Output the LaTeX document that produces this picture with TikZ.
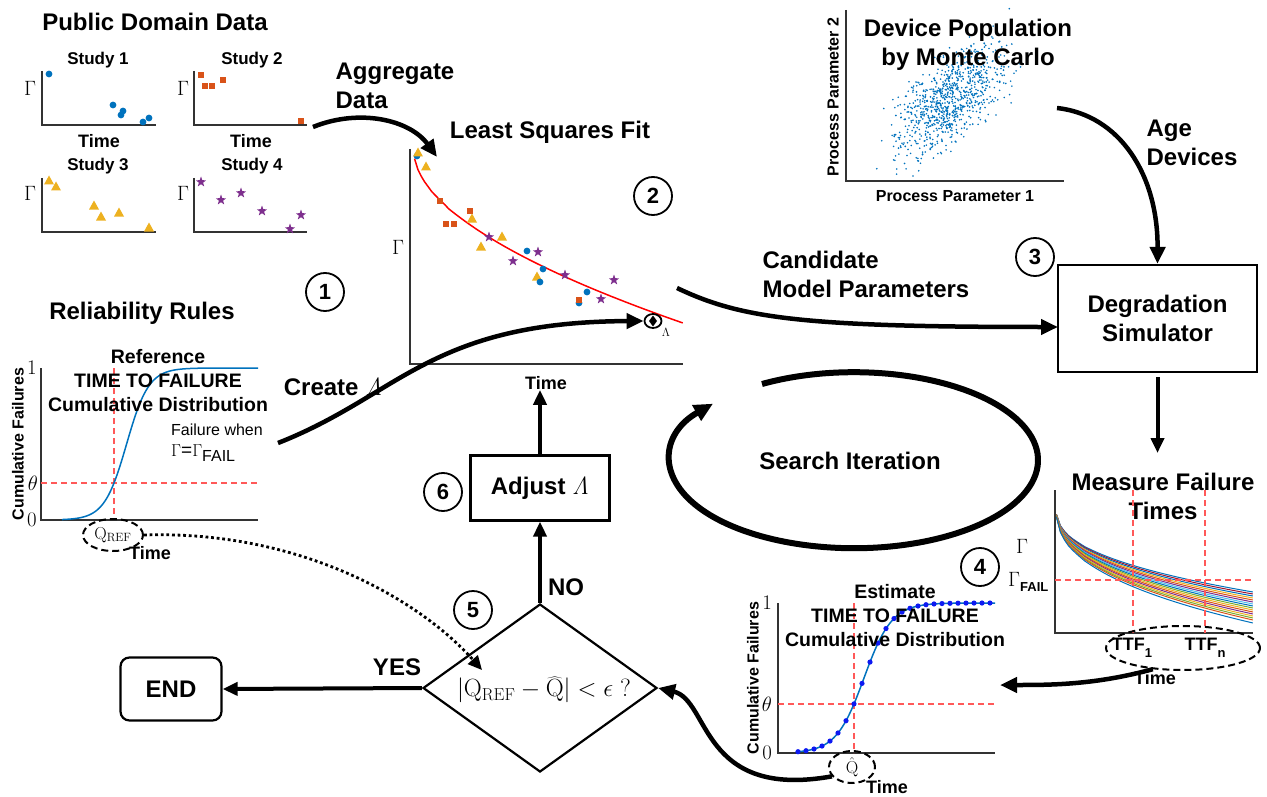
\documentclass[tikz,border=0pt]{standalone}
\usepackage[no-math]{fontspec}
\setmainfont{Liberation Sans}
\usetikzlibrary{arrows.meta,shapes.geometric,calc}
\definecolor{mblue}{rgb}{0,0.447,0.741}
\definecolor{morange}{rgb}{0.85,0.325,0.098}
\definecolor{myellow}{rgb}{0.929,0.694,0.125}
\definecolor{mpurple}{rgb}{0.494,0.184,0.556}
\definecolor{mgreen}{rgb}{0.466,0.674,0.188}
\definecolor{mcyan}{rgb}{0.301,0.745,0.933}
\definecolor{mred}{rgb}{0.635,0.078,0.184}
\definecolor{dred}{rgb}{1,0.35,0.35}
\definecolor{dotblue}{rgb}{0.05,0.1,0.95}
\newcommand\mdot[2]{\fill[mblue] (#1,#2) circle (3.4);}
\newcommand\msq[2]{\fill[morange] ({#1-3},{#2-3}) rectangle ({#1+3},{#2+3});}
\newcommand\mtri[2]{\fill[myellow,shift={(#1,#2)}] (0,-5.5) -- (5,3.5) -- (-5,3.5) -- cycle;}
\newcommand\mstar[2]{\fill[mpurple,shift={(#1,#2)}] (270:5.5)--(306:2.2)--(342:5.5)--(18:2.2)--(54:5.5)--(90:2.2)--(126:5.5)--(162:2.2)--(198:5.5)--(234:2.2)--cycle;}
\tikzset{
  ttl/.style={font=\fontsize{24}{29}\selectfont\bfseries, align=center, inner sep=0pt},
  ttlL/.style={font=\fontsize{24}{29}\selectfont\bfseries, align=left, inner sep=0pt},
  cdf/.style={font=\fontsize{19.5}{24}\selectfont\bfseries, align=center, inner sep=0pt},
  stl/.style={font=\fontsize{17}{19}\selectfont\bfseries, inner sep=0pt},
  tml/.style={font=\fontsize{18}{20}\selectfont\bfseries, inner sep=0pt},
  axl/.style={font=\fontsize{16}{18}\selectfont\bfseries, inner sep=0pt},
  serif/.style={font=\fontsize{20}{20}\selectfont, inner sep=0pt},
  ax/.style={draw=black!80, line width=1.3pt},
  rdash/.style={draw=dred, line width=1.2pt, dash pattern=on 6pt off 4pt},
  num/.style={circle, draw, line width=1.8pt, minimum size=38pt, inner sep=0pt, font=\fontsize{22}{22}\selectfont\bfseries},
  conn/.style={line width=4.5pt, -{Triangle[length=17pt,width=15pt]}},
  sconn/.style={line width=4pt, -{Triangle[length=15pt,width=13pt]}},
  flowbox/.style={draw, line width=2.2pt, inner sep=0pt, align=center, font=\fontsize{24}{29}\selectfont\bfseries},
  dashell/.style={ellipse, draw, line width=2pt, dash pattern=on 7pt off 4pt, inner sep=0pt},
}
\begin{document}
\begin{tikzpicture}[x=1pt,y=-1pt]
\useasboundingbox (0,0) rectangle (1267,797);

% ---------- Public domain data ----------
\node[ttl] (pdd) at (155,22) {Public Domain Data};
\node[stl] (s1t) at (98,60) {Study 1};
\draw[ax] (42,71) -- (42,125) -- (156,125);
\node[serif] (s1g) at (30,88) {$\Gamma$};
\node[tml] (s1x) at (99,141) {Time};
\mdot{49}{74}\mdot{113}{105}\mdot{123}{111}\mdot{121}{115}\mdot{143}{122}\mdot{149}{118}

\node[stl] (s2t) at (252,60) {Study 2};
\draw[ax] (194,71) -- (194,125) -- (307,125);
\node[serif] (s2g) at (183,88) {$\Gamma$};
\node[tml] (s2x) at (251,141) {Time};
\msq{201}{75}\msq{205}{86}\msq{212}{86}\msq{223}{80}\msq{301}{121}

\node[stl] (s3t) at (98,166) {Study 3};
\draw[ax] (42,178) -- (42,232) -- (156,232);
\node[serif] (s3g) at (30,193) {$\Gamma$};
\mtri{49}{181}\mtri{56}{187}\mtri{94}{206}\mtri{101}{217}\mtri{119}{213}\mtri{149}{228}

\node[stl] (s4t) at (252,166) {Study 4};
\draw[ax] (194,178) -- (194,232) -- (307,232);
\node[serif] (s4g) at (183,193) {$\Gamma$};
\mstar{201}{182}\mstar{221}{200}\mstar{241}{193}\mstar{262}{211}\mstar{301}{215}\mstar{290}{229}

% ---------- Least squares ----------
\node[ttlL] (agg) at (395,86) {Aggregate\\Data};
\node[ttl] (lst) at (550,132) {Least Squares Fit};
\draw[ax] (410,149) -- (410,364) -- (683,364);
\node[serif] (lsg) at (398,247) {$\Gamma$};
\node[tml] (lstime) at (546,383) {Time};
\draw[red, line width=1.5pt] plot[domain=0.002:1, samples=80] ({414+269*\x},{153+170*(\x)^0.55});
\mdot{417}{156}\mtri{418}{153}\mtri{426}{167}\msq{440}{201}\msq{446}{224}\msq{454}{224}
\msq{470}{211}\mtri{472}{219}\mstar{489}{237}\mtri{502}{237}\mtri{481}{247}\mstar{513}{261}
\mdot{527}{251}\mstar{538}{252}\mdot{543}{269}\mtri{537}{277}\mdot{540}{282}\mstar{565}{275}
\mdot{587}{292}\mdot{579}{303}\msq{579}{300}\mstar{601}{299}\mstar{614}{280}
\node[ellipse, draw, line width=1.8pt, minimum width=17pt, minimum height=14pt, inner sep=0pt] (lam) at (653,321) {};
\fill (653,315.5) -- (657,321) -- (653,326.5) -- (649,321) -- cycle;
\node[font=\fontsize{12}{12}\selectfont, inner sep=0pt] (lamsub) at (666,332) {$\Lambda$};
\coordinate (s2end) at (313,127);
\coordinate (lsin) at (437,157);
\draw[conn] (s2end) .. controls (360,108) and (410,120) .. (lsin);

\node[num] (n1) at (325,292) {1};
\node[num] (n2) at (653,196) {2};

% ---------- Monte Carlo ----------
\begin{scope}
\clip (847,8) rectangle (1064,180);
\pgfmathsetseed{7}
\foreach \i in {1,...,900}{
  \pgfmathsetmacro\u{rand+rand+rand}
  \pgfmathsetmacro\v{rand+rand+rand}
  \pgfmathsetmacro\px{950+27*\u}
  \pgfmathsetmacro\py{100-26*(0.6*\u+0.8*\v)}
  \fill[mblue] (\px,\py) circle (0.9);
}
\end{scope}
\draw[ax] (846,10) -- (846,181) -- (1064,181);
\node[ttl] (mct) at (968,45) {Device Population\\by Monte Carlo};
\node[axl, rotate=90] (mcy) at (833,97) {Process Parameter 2};
\node[axl] (mcx) at (955,196) {Process Parameter 1};
\node[ttlL] (age) at (1192,143) {Age\\Devices};

% ---------- Degradation simulator ----------
\node[flowbox, minimum width=199pt, minimum height=107pt] (deg) at (1157.5,318.5) {Degradation\\Simulator};
\node[num] (n3) at (1035,257) {3};
\coordinate (mcend) at (1057,108);
\draw[conn] (mcend) .. controls (1120,115) and (1158,175) .. (deg.north);
\node[ttlL] (cand) at (866,274) {Candidate\\Model Parameters};
\coordinate (candst) at (677,288);
\coordinate (degin) at (1058,327);
\draw[conn] (candst) .. controls (740,318) and (800,327) .. (degin);
\coordinate (mfin) at (1157.5,453);
\draw[sconn] ([yshift=-4pt]deg.south) -- (mfin);

% ---------- Measure failure times ----------
\node[ttl] (mft) at (1163,496) {Measure Failure\\Times};
\foreach \k/\c in {85/mblue,87/mred,89/mblue,91/myellow,93/morange,95/mpurple,97/mcyan,99/mblue,101/mgreen,103/myellow,105/morange,107/mpurple,109/myellow,111/mgreen,113/morange,116/mblue}{
  \draw[\c, line width=1pt] plot[domain=0.002:1, samples=50] ({1056+197*\x},{507+\k*(\x)^0.4});
}
\draw[ax] (1055,490) -- (1055,633) -- (1253,633);
\draw[rdash] (1055,580) -- (1253,580);
\draw[rdash] (1133,490) -- (1133,633);
\draw[rdash] (1205,490) -- (1205,633);
\node[serif] (mfg) at (1022,546) {$\Gamma$};
\node[serif, anchor=west] (mfgf) at (1008,582) {$\Gamma$\raisebox{-5pt}{\fontsize{13}{13}\selectfont\bfseries FAIL}};
\node[dashell, minimum width=154pt, minimum height=44pt] (ttf) at (1183,648) {};
\node[tml] (ttf1) at (1132,648) {TTF\raisebox{-7pt}{\fontsize{13}{13}\selectfont 1}};
\node[tml] (ttfn) at (1205,648) {TTF\raisebox{-7pt}{\fontsize{13}{13}\selectfont n}};
\node[tml] (mfx) at (1155,678) {Time};
\node[num] (n4) at (980,567) {4};

% ---------- Estimate CDF ----------
\draw[ax] (778,603) -- (778,753) -- (995,753);
\draw[rdash] (778,704) -- (995,704);
\draw[rdash] (854,603) -- (854,753);
\draw[mblue, line width=1.5pt] plot[domain=798:995, samples=100] (\x,{753-150/(1+exp(-(\x-864)/13.9))});
\foreach \x in {798,806,...,990}{
  \fill[dotblue] (\x,{753-150/(1+exp(-(\x-864)/13.9))}) circle (2.6);
}
\node[serif] (e1) at (767,603) {$1$};
\node[serif] (e0) at (767,753) {$0$};
\node[serif] (eth) at (767,704) {$\theta$};
\node[axl, rotate=90] (ey) at (753,678) {Cumulative Failures};
\node[cdf] (et) at (895,616) {Estimate\\TIME TO FAILURE\\Cumulative Distribution};
\node[dashell, minimum width=46pt, minimum height=32pt, font=\fontsize{19}{19}\selectfont] (qhat) at (852,767) {$\hat{\mathrm{Q}}$};
\node[tml] (ex) at (887,787) {Time};
\coordinate (estin) at (1000,685);
\draw[conn] (ttf.215) .. controls (1095,685) and (1050,685) .. (estin);

% ---------- Reliability rules ----------
\node[ttl] (rr) at (142,313) {Reliability Rules};
\draw[ax] (41,368) -- (41,520) -- (258,520);
\draw[rdash] (41,483) -- (258,483);
\draw[rdash] (114,368) -- (114,520);
\draw[mblue, line width=1.5pt] plot[domain=62:258, samples=120] (\x,{520-152/(1+exp(-(\x-126.6)/11.1))});
\node[serif] (r1) at (32,368) {$1$};
\node[serif] (r0) at (32,520) {$0$};
\node[serif] (rth) at (33,483) {$\theta$};
\node[axl, rotate=90] (ry) at (18,444) {Cumulative Failures};
\node[cdf] (rt) at (158,381) {Reference\\TIME TO FAILURE\\Cumulative Distribution};
\node[font=\fontsize{16}{21}\selectfont, align=left, inner sep=0pt, anchor=north west] (fw) at (171,424) {Failure when\\{\fontsize{19}{19}\selectfont$\Gamma$=$\Gamma$}\raisebox{-5pt}{FAIL}};
\node[dashell, minimum width=60pt, minimum height=32pt, font=\fontsize{18}{18}\selectfont] (qref) at (113,535) {$\mathrm{Q}_{\mathrm{REF}}$};
\node[tml] (rx) at (150,553) {Time};
\node[ttl] (crl) at (333,387) {Create $\mathit{\Lambda}$};
\coordinate (rrend) at (278,443);
\draw[conn] (rrend) .. controls (400,395) and (430,322) .. (lam.west);

% ---------- Search iteration ----------
\draw[line width=6pt, -{Triangle[length=19pt,width=17pt]}] (762,384) arc[start angle=-120, end angle=220, x radius=184, y radius=88];
\node[ttl] (si) at (850,461) {Search Iteration};

% ---------- Decision part ----------
\node[flowbox, minimum width=139pt, minimum height=65pt] (adj) at (540,488) {Adjust $\mathit{\Lambda}$};
\node[num] (n6) at (443,492) {6};
\node[diamond, draw, line width=2.2pt, minimum width=234pt, minimum height=168pt, inner sep=0pt] (dec) at (540,688) {};
\node[font=\fontsize{23}{23}\selectfont, inner sep=0pt] (decq) at (544,690) {$\bigl|\mathrm{Q}_{\mathrm{REF}}-\widehat{\mathrm{Q}}\bigr|<\epsilon\;?$};
\node[num] (n5) at (473,610) {5};
\node[flowbox, rounded corners=9pt, minimum width=101pt, minimum height=63pt] (endb) at (171,689) {END};
\node[ttl] (no) at (566,587) {NO};
\node[ttl] (yes) at (397,667) {YES};
\draw[sconn] (dec.north) -- (adj.south);
\draw[sconn] (adj.north) -- (adj.north |- lstime.south);
\draw[sconn] (dec.west) -- (endb.east);
\draw[conn] (qhat.205) .. controls (700,800) and (710,700) .. (dec.east);
\coordinate (qin) at (482,670);
\draw[line width=2.8pt, dash pattern=on 2.8pt off 2.8pt, -{Triangle[length=14pt,width=13pt]}] (qref.east) .. controls (300,530) and (420,600) .. (qin);
\end{tikzpicture}
\end{document}
